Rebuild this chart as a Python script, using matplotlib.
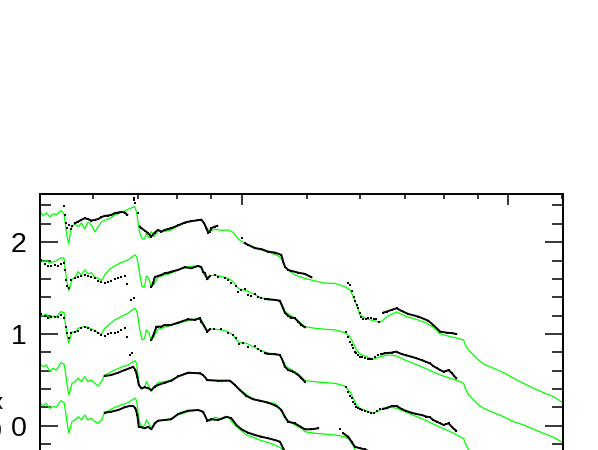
import numpy as np
import matplotlib
matplotlib.use("Agg")
import matplotlib.pyplot as plt
from matplotlib.ticker import FixedLocator, NullFormatter, FixedFormatter

plt.rcParams['font.family'] = ['Liberation Sans', 'DejaVu Sans']

# ---------------- data ----------------
# shared wavelength grid (Angstrom) for the model spectra (green)
WAVE = [1000, 1010, 1022, 1034, 1046, 1058, 1074, 1086, 1091, 1097,
        1104, 1110, 1116, 1127, 1140, 1153, 1166, 1179, 1193, 1207,
        1221, 1235, 1249, 1271, 1293, 1322, 1353, 1385, 1394, 1401,
        1409, 1420, 1433, 1441, 1453, 1466, 1480, 1500, 1535, 1570,
        1607, 1663, 1722, 1741, 1757, 1777, 1792, 1823, 1865, 1908,
        1942, 1964, 1987, 2032, 2080, 2128, 2190, 2241, 2280, 2306,
        2332, 2400, 2455, 2484, 2571, 2661, 2754, 2850, 2900, 2933,
        2966, 3001, 3070, 3142, 3215, 3308, 3404, 3503, 3626, 3753,
        3861, 3955, 4094, 4237, 4285, 4310, 4359, 4435, 4512, 4590,
        4751, 4917, 5089, 5267, 5451, 5641, 5839, 6030, 6290]

MODEL_1 = [2.345, 2.287, 2.319, 2.276, 2.309, 2.298, 2.345, 2.309, 2.200, 2.069,
           1.981, 2.112, 2.167, 2.200, 2.167, 2.210, 2.145, 2.221, 2.189, 2.112,
           2.167, 2.221, 2.238, 2.260, 2.298, 2.325, 2.358, 2.388, 2.319, 2.210,
           2.101, 2.036, 2.036, 2.101, 2.047, 2.116, 2.063, 2.116, 2.116, 2.134,
           2.178, 2.225, 2.238, 2.243, 2.210, 2.145, 2.118, 2.142, 2.129, 2.134,
           2.107, 2.058, 2.020, 1.981, 1.949, 1.921, 1.894, 1.867, 1.840, 1.785,
           1.709, 1.643, 1.618, 1.605, 1.578, 1.553, 1.551, 1.516, 1.480, 1.407,
           1.316, 1.207, 1.164, 1.147, 1.125, 1.196, 1.240, 1.196, 1.164, 1.125,
           1.076, 1.000, 0.971, 0.945, 0.935, 0.880, 0.826, 0.771, 0.716, 0.673,
           0.626, 0.578, 0.517, 0.462, 0.408, 0.360, 0.316, 0.251, 0.182]

MODEL_2 = [1.826, 1.785, 1.801, 1.774, 1.785, 1.796, 1.829, 1.826, 1.690, 1.570,
           1.469, 1.534, 1.596, 1.611, 1.679, 1.643, 1.698, 1.654, 1.668, 1.618,
           1.607, 1.581, 1.643, 1.706, 1.742, 1.778, 1.807, 1.861, 1.843, 1.763,
           1.643, 1.516, 1.516, 1.632, 1.607, 1.516, 1.545, 1.618, 1.643, 1.662,
           1.698, 1.734, 1.742, 1.716, 1.643, 1.607, 1.632, 1.643, 1.625, 1.607,
           1.570, 1.516, 1.487, 1.472, 1.436, 1.400, 1.374, 1.371, 1.352, 1.262,
           1.232, 1.171, 1.114, 1.080, 1.062, 1.051, 1.044, 1.014, 0.971, 0.899,
           0.826, 0.782, 0.752, 0.724, 0.752, 0.771, 0.760, 0.716, 0.673, 0.626,
           0.586, 0.553, 0.517, 0.480, 0.462, 0.408, 0.335, 0.280, 0.226, 0.190,
           0.142, 0.098, 0.044, 0.008, -0.039, -0.083, -0.126, -0.185, -0.254]

MODEL_3 = [1.218, 1.196, 1.218, 1.171, 1.196, 1.189, 1.243, 1.232, 1.117, 0.989,
           0.899, 0.971, 1.025, 1.014, 1.062, 1.073, 1.080, 1.073, 1.055, 1.036,
           1.014, 0.997, 1.062, 1.109, 1.153, 1.189, 1.226, 1.280, 1.254, 1.171,
           1.044, 0.935, 0.953, 1.044, 1.014, 0.935, 0.971, 1.051, 1.073, 1.098,
           1.117, 1.145, 1.171, 1.153, 1.098, 1.033, 1.055, 1.051, 1.044, 1.025,
           0.989, 0.935, 0.905, 0.899, 0.861, 0.826, 0.790, 0.779, 0.771, 0.698,
           0.643, 0.589, 0.534, 0.491, 0.480, 0.469, 0.462, 0.433, 0.371, 0.299,
           0.226, 0.190, 0.164, 0.135, 0.171, 0.207, 0.190, 0.153, 0.106, 0.062,
           0.019, -0.017, -0.065, -0.120, -0.137, -0.192, -0.265, -0.320]

MODEL_4 = [0.680, 0.643, 0.662, 0.589, 0.626, 0.607, 0.687, 0.673, 0.589, 0.462,
           0.335, 0.397, 0.462, 0.480, 0.517, 0.480, 0.534, 0.480, 0.498, 0.462,
           0.433, 0.480, 0.553, 0.578, 0.607, 0.637, 0.662, 0.709, 0.680, 0.534,
           0.425, 0.397, 0.425, 0.480, 0.433, 0.371, 0.425, 0.469, 0.480, 0.498,
           0.534, 0.571, 0.571, 0.564, 0.542, 0.491, 0.491, 0.491, 0.480, 0.491,
           0.469, 0.425, 0.397, 0.338, 0.291, 0.273, 0.255, 0.244, 0.190, 0.117,
           0.062, 0.008, -0.028, -0.065, -0.083, -0.091, -0.101, -0.120, -0.156, -0.221,
           -0.287, -0.330]

MODEL_5 = [0.251, 0.215, 0.244, 0.190, 0.207, 0.201, 0.273, 0.251, 0.171, 0.044,
           -0.083, -0.017, 0.044, 0.062, 0.098, 0.062, 0.117, 0.062, 0.081, 0.044,
           0.026, 0.062, 0.142, 0.171, 0.201, 0.226, 0.251, 0.299, 0.273, 0.135,
           0.026, -0.017, 0.008, 0.062, 0.026, -0.039, 0.008, 0.055, 0.062, 0.081,
           0.117, 0.153, 0.171, 0.153, 0.128, 0.062, 0.051, 0.092, 0.070, 0.098,
           0.026, -0.011, -0.039, -0.101, -0.126, -0.156, -0.185, -0.210, -0.236, -0.265,
           -0.320]

# observed spectra (black) : sparse points
OBS1_SPARSE_W = [1086, 1091, 1095, 1099, 1105, 1111, 1116, 1379, 1381, 1388, 1401, 2002,
                 2883, 2900, 2923, 2938, 2953, 2968, 2984, 2999, 3015, 3035, 3062, 3088,
                 3120, 3147, 3174, 3202]
OBS1_SPARSE_F = [2.399, 2.298, 2.207, 2.156, 2.189, 2.145, 2.178, 2.478, 2.461, 2.432, 2.314, 2.044,
                 1.553, 1.534, 1.469, 1.407, 1.360, 1.316, 1.280, 1.229, 1.189, 1.160, 1.164, 1.171,
                 1.174, 1.164, 1.158, 1.125]
# observed spectra (black) : densely sampled pieces
OBS1_A_W = [1127, 1140, 1153, 1166, 1179, 1193, 1207, 1221, 1235, 1249, 1263, 1278, 1293, 1308, 1322, 1338, 1350]
OBS1_A_F = [2.207, 2.225, 2.243, 2.262, 2.251, 2.236, 2.243, 2.251, 2.273, 2.287, 2.290, 2.298, 2.316, 2.323, 2.330, 2.323, 2.298]
OBS1_B_W = [1409, 1417, 1433, 1450, 1466, 1483, 1500, 1517, 1535, 1553, 1570, 1607, 1644, 1682, 1722, 1741,
            1757, 1771, 1782, 1792, 1802, 1823, 1839]
OBS1_B_F = [2.170, 2.153, 2.126, 2.098, 2.061, 2.105, 2.134, 2.116, 2.134, 2.142, 2.153, 2.183, 2.214, 2.229, 2.240, 2.246,
            2.207, 2.153, 2.105, 2.116, 2.153, 2.170, 2.178]
OBS1_C_W = [2021, 2044, 2092, 2140, 2190, 2241, 2292, 2306, 2319, 2346, 2372, 2428, 2484, 2541]
OBS1_C_F = [1.989, 1.971, 1.935, 1.924, 1.897, 1.887, 1.861, 1.788, 1.734, 1.698, 1.687, 1.668, 1.654, 1.618]
OBS1_D_W = [3251, 3289, 3346, 3404, 3463, 3543, 3667, 3795, 3861, 3955, 4047, 4118, 4179]
OBS1_D_F = [1.232, 1.243, 1.262, 1.280, 1.251, 1.218, 1.189, 1.145, 1.098, 1.025, 1.014, 1.008, 1.000]

OBS2_SPARSE_W = [1004, 1016, 1028, 1040, 1052, 1064, 1076, 1086, 1091, 1095,
                 1098, 1104, 1114, 1127, 1140, 1153, 1166, 1179, 1193, 1207,
                 1221, 1235, 1249, 1263, 1278, 1293, 1308, 1322, 1338, 1347,
                 1823, 1844, 1887, 1908, 1930, 1964, 1975, 1998, 2021, 2044, 2068, 2092, 2116, 2140,
                 2866, 2883, 2900, 2916, 2933, 2950, 2966, 2984, 3001, 3025, 3053, 3081, 3106, 3131, 3160, 3196]
OBS2_SPARSE_F = [1.807, 1.763, 1.742, 1.742, 1.752, 1.742, 1.763, 1.778, 1.698, 1.589,
                 1.523, 1.498, 1.589, 1.607, 1.618, 1.632, 1.643, 1.632, 1.618, 1.607,
                 1.581, 1.570, 1.553, 1.570, 1.581, 1.596, 1.607, 1.618, 1.632, 1.545,
                 1.643, 1.618, 1.607, 1.589, 1.559, 1.523, 1.461, 1.480, 1.487, 1.425, 1.414, 1.436, 1.407, 1.389,
                 1.025, 0.971, 0.916, 0.880, 0.844, 0.807, 0.790, 0.771, 0.752, 0.744, 0.735, 0.727, 0.724, 0.727, 0.744, 0.771]
OBS2_A_W = [1466, 1475, 1483, 1500, 1517, 1535, 1553, 1570, 1607, 1644, 1682, 1722, 1741, 1751, 1762, 1777, 1792]
OBS2_A_F = [1.516, 1.553, 1.618, 1.632, 1.643, 1.662, 1.668, 1.679, 1.698, 1.727, 1.716, 1.742, 1.727, 1.679, 1.662, 1.596, 1.632]
OBS2_B_W = [2165, 2190, 2241, 2280, 2306, 2319, 2346, 2372, 2400, 2428, 2455, 2484]
OBS2_B_F = [1.382, 1.378, 1.371, 1.363, 1.280, 1.232, 1.196, 1.178, 1.171, 1.134, 1.098, 1.073]
OBS2_C_W = [3232, 3270, 3308, 3346, 3377, 3404, 3429, 3463, 3519, 3584, 3642, 3709, 3769, 3818, 3861, 3911,
            3955, 4000, 4038, 4070, 4118, 4150, 4179]
OBS2_C_F = [0.779, 0.790, 0.793, 0.796, 0.804, 0.807, 0.793, 0.782, 0.766, 0.752, 0.735, 0.716, 0.695, 0.680, 0.651, 0.626,
            0.607, 0.589, 0.597, 0.607, 0.571, 0.542, 0.517]

OBS3_SPARSE_W = [1004, 1016, 1028, 1040, 1052, 1064, 1076, 1086, 1095, 1098,
                 1104, 1114, 1127, 1140, 1153, 1166, 1179, 1193, 1207, 1221,
                 1235, 1249, 1263, 1278, 1293, 1308, 1322, 1338, 1347, 1365, 1379,
                 1819, 1865, 1908, 1942, 1964, 1980, 2010, 2044, 2092, 2116, 2140,
                 2866, 2883, 2900, 2916, 2933, 2950, 2966, 2984, 3001, 3018, 3053, 3088, 3120, 3152, 3180, 3215]
OBS3_SPARSE_F = [1.218, 1.196, 1.171, 1.182, 1.182, 1.189, 1.207, 1.171, 1.080, 1.008,
                 0.956, 1.008, 1.025, 1.036, 1.062, 1.073, 1.062, 1.044, 1.036, 1.014,
                 0.989, 0.978, 1.000, 1.008, 1.014, 1.025, 1.044, 1.062, 0.971, 1.371, 1.387,
                 1.055, 1.051, 1.014, 0.989, 0.953, 0.891, 0.905, 0.861, 0.869, 0.833, 0.815,
                 0.425, 0.371, 0.324, 0.299, 0.262, 0.237, 0.207, 0.190, 0.182, 0.171, 0.160, 0.153, 0.144, 0.135, 0.155, 0.179]
OBS3_A_W = [1466, 1480, 1492, 1500, 1517, 1535, 1553, 1570, 1607, 1663, 1702, 1731, 1741, 1757, 1777, 1792]
OBS3_A_F = [0.935, 1.008, 1.080, 1.080, 1.080, 1.098, 1.093, 1.098, 1.123, 1.160, 1.153, 1.171, 1.134, 1.087, 1.025, 1.051]
OBS3_B_W = [2165, 2190, 2241, 2280, 2306, 2319, 2346, 2386, 2428, 2455, 2484]
OBS3_B_F = [0.790, 0.784, 0.779, 0.771, 0.698, 0.643, 0.607, 0.589, 0.553, 0.517, 0.480]
OBS3_C_W = [3251, 3289, 3346, 3404, 3463, 3519, 3584, 3642, 3709, 3769, 3818, 3861, 3911, 3955, 4000, 4038,
            4070, 4118, 4150, 4179]
OBS3_C_F = [0.185, 0.190, 0.215, 0.215, 0.182, 0.160, 0.142, 0.128, 0.117, 0.100, 0.092, 0.062, 0.044, 0.026, 0.008, 0.019,
            0.026, -0.014, -0.036, -0.055]

OBS4_SPARSE_W = [1360, 1374, 2802]
OBS4_SPARSE_F = [0.776, 0.793, -0.039]
OBS4_A_W = [1249, 1278, 1308, 1338, 1361, 1377, 1388, 1397, 1404, 1417,
            1433, 1450, 1466, 1483, 1500, 1535, 1570, 1607, 1663, 1731,
            1751, 1777, 1844, 1920, 1953, 1987, 2032, 2080, 2128, 2190,
            2253, 2292, 2319, 2346, 2400, 2455, 2484, 2541, 2600]
OBS4_A_F = [0.542, 0.553, 0.578, 0.607, 0.626, 0.643, 0.607, 0.534, 0.444, 0.408,
            0.419, 0.408, 0.389, 0.425, 0.444, 0.469, 0.491, 0.537, 0.578, 0.571,
            0.553, 0.498, 0.491, 0.491, 0.444, 0.389, 0.324, 0.288, 0.273, 0.251,
            0.215, 0.171, 0.098, 0.044, 0.026, -0.017, -0.039, -0.039, -0.028]
OBS4_B_W = [2834, 2883, 2916, 2950, 3001, 3053, 3109]
OBS4_B_F = [-0.083, -0.120, -0.174, -0.229, -0.246, -0.257, -0.287]

OBS5_A_W = [1249, 1278, 1308, 1338, 1361, 1377, 1388, 1397, 1404, 1417,
            1433, 1450, 1466, 1483, 1500, 1535, 1570, 1607, 1663, 1722,
            1751, 1777, 1802, 1844, 1897, 1930, 1964, 1998, 2044, 2092,
            2140, 2190, 2241, 2280, 2306, 2322]
OBS5_A_F = [0.142, 0.153, 0.171, 0.201, 0.215, 0.215, 0.190, 0.117, -0.011, -0.017,
            -0.028, -0.011, -0.039, 0.026, 0.055, 0.062, 0.070, 0.128, 0.164, 0.171,
            0.153, 0.055, 0.070, 0.062, 0.098, 0.081, 0.008, -0.039, -0.076, -0.101,
            -0.120, -0.137, -0.156, -0.174, -0.246, -0.287]

Y_TICKS = [0, 1, 2]
Y_TICK_LABELS = ["0", "1", "2"]
Y_MINOR = [-0.4, -0.2, 0.2, 0.4, 0.6, 0.8, 1.2, 1.4, 1.6, 1.8, 2.2, 2.4]
X_MAJOR = [1000, 2000, 5000]
X_MINOR = [1200, 1400, 1600, 1800, 2500, 3000, 3500, 4000, 4500, 6000]

MODELS = [MODEL_1, MODEL_2, MODEL_3, MODEL_4, MODEL_5]
SPARSE = [(OBS1_SPARSE_W, OBS1_SPARSE_F), (OBS2_SPARSE_W, OBS2_SPARSE_F),
          (OBS3_SPARSE_W, OBS3_SPARSE_F), (OBS4_SPARSE_W, OBS4_SPARSE_F)]
DENSE = [(OBS1_A_W, OBS1_A_F), (OBS1_B_W, OBS1_B_F), (OBS1_C_W, OBS1_C_F), (OBS1_D_W, OBS1_D_F),
         (OBS2_A_W, OBS2_A_F), (OBS2_B_W, OBS2_B_F), (OBS2_C_W, OBS2_C_F),
         (OBS3_A_W, OBS3_A_F), (OBS3_B_W, OBS3_B_F), (OBS3_C_W, OBS3_C_F),
         (OBS4_A_W, OBS4_A_F), (OBS4_B_W, OBS4_B_F),
         (OBS5_A_W, OBS5_A_F)]

# ---------------- figure ----------------
W, H = 598, 450
fig = plt.figure(figsize=(W / 100, H / 100), dpi=100)
fig.patch.set_facecolor('white')
ax = fig.add_axes([40 / W, (H - 471.6) / H, 523 / W, 277.6 / H])

GREEN = '#00ff00'
for m in MODELS:
    ax.plot(WAVE[:len(m)], m, color=GREEN, lw=0.9, zorder=2, solid_joinstyle='round')

for w, f in DENSE:
    ax.plot(w, f, color='black', lw=1.4, marker='s', ms=1.8, mew=0, zorder=3)
for w, f in SPARSE:
    ax.plot(w, f, ls='none', color='black', marker='s', ms=2.0, mew=0, zorder=3)

ax.set_xscale('log')
ax.set_xlim(1000, 6030)
ax.set_ylim(-0.5, 2.525)

ax.xaxis.set_major_locator(FixedLocator(X_MAJOR))
ax.xaxis.set_minor_locator(FixedLocator(X_MINOR))
ax.xaxis.set_major_formatter(NullFormatter())
ax.xaxis.set_minor_formatter(NullFormatter())
ax.yaxis.set_major_locator(FixedLocator(Y_TICKS))
ax.yaxis.set_major_formatter(FixedFormatter(Y_TICK_LABELS))
ax.yaxis.set_minor_locator(FixedLocator(Y_MINOR))

ax.tick_params(axis='x', which='major', direction='in', length=8, width=1.1,
               top=True, bottom=True, labelbottom=False)
ax.tick_params(axis='x', which='minor', direction='in', length=3.5, width=1.1,
               top=True, bottom=True)
ax.tick_params(axis='y', which='major', direction='in', length=13, width=1.1,
               left=True, right=True, labelsize=20.5, pad=9.5)
ax.tick_params(axis='y', which='minor', direction='in', length=8, width=1.1,
               left=True, right=True)
for s in ax.spines.values():
    s.set_linewidth(1.4)

# partially visible axis label at the far left edge
fig.text(3 / W, 1 - 416.5 / H, "Flux\n(arb.)", ha='right', va='center',
         multialignment='right', fontsize=16, linespacing=1.3)

fig.savefig('out.png', dpi=100)
